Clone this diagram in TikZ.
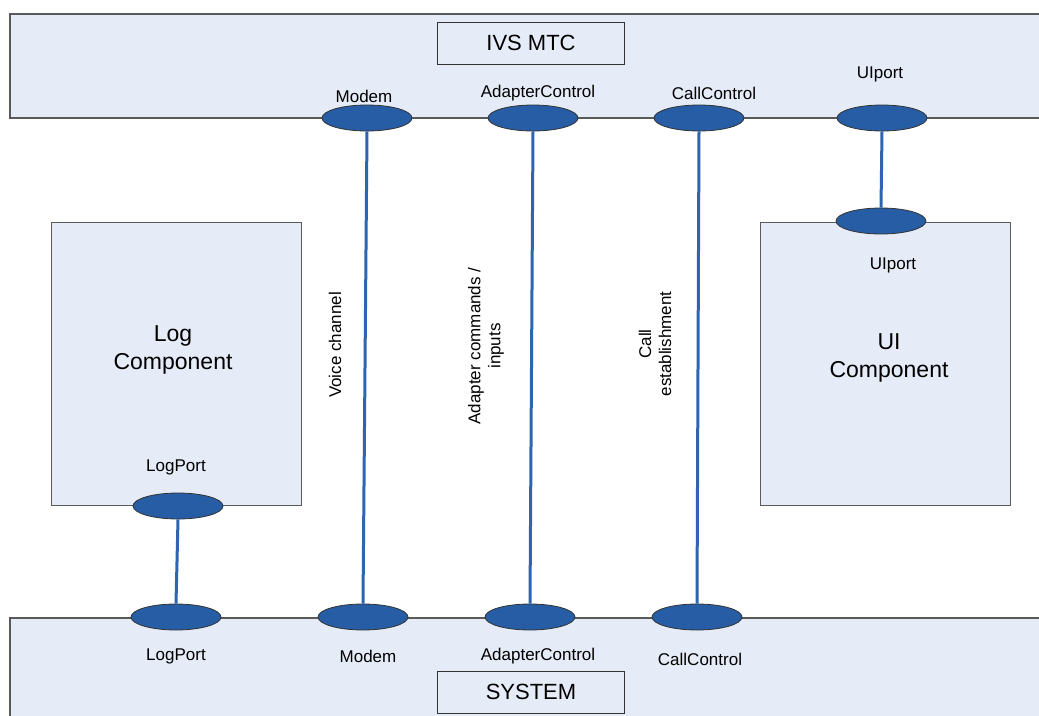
\documentclass[tikz,border=0pt]{standalone}
\usepackage{fontspec}
\setmainfont{Liberation Sans}
\usetikzlibrary{shapes.geometric}
\definecolor{bandfill}{RGB}{230,236,247}
\definecolor{portblue}{RGB}{38,93,165}
\definecolor{linkblue}{RGB}{46,100,176}
\definecolor{edgegray}{RGB}{90,90,90}

\begin{document}
\begin{tikzpicture}[x=1pt,y=-1pt,
  band/.style={draw=edgegray,fill=bandfill,line width=1.2pt},
  comp/.style={draw=edgegray,fill=bandfill,line width=1pt,rectangle,minimum width=250pt,minimum height=283pt,inner sep=0pt},
  title/.style={draw=black!80,fill=bandfill,line width=1pt,minimum width=187pt,minimum height=42pt,inner sep=0pt,font=\fontsize{22}{26}\selectfont},
  compname/.style={align=center,inner sep=0pt,font=\fontsize{23}{28}\selectfont},
  port/.style={ellipse,draw=black!80,line width=0.8pt,fill=portblue,minimum width=90pt,minimum height=26pt,inner sep=0pt},
  lbl/.style={inner sep=0pt,font=\fontsize{17}{20}\selectfont},
  vlbl/.style={lbl,rotate=90,align=center},
  link/.style={draw=linkblue,line width=3pt}]
\clip (0,0) rectangle (1039,715);
\fill[white] (0,0) rectangle (1039,715);
% the two system bands
\draw[band] (10,14) rectangle (1060,118);
\draw[band] (10,618) rectangle (1060,740);
\node[title] (mtc) at (531,43) {IVS MTC};
\node[title] (sys) at (531,692) {SYSTEM};
% components
\node[comp] (log) at (176,363.5) {};
\node[comp] (ui) at (885,363.5) {};
\node[compname] (logname) at (173,350) {Log\\Component};
\node[compname] (uiname) at (889,358) {UI\\Component};
% ports
\foreach \n/\x/\y in {mdmT/367/118,adcT/533/118,ccT/699/118,uiT/882/118,
    uiP/881/221,logP/178/506,
    logB/176/617,mdmB/363/617,adcB/530/617,ccB/697/617} {
  \node[port] (\n) at (\x,\y) {};
}
% connections
\draw[link] (mdmT.south) -- (mdmB.north);
\draw[link] (adcT.south) -- (adcB.north);
\draw[link] (ccT.south) -- (ccB.north);
\draw[link] (uiT.south) -- (uiP.north);
\draw[link] (logP.south) -- (logB.north);
% port labels
\foreach \n/\x/\y/\t in {mdmTl/364/96/Modem,adcTl/538/93/AdapterControl,
    ccTl/714/93/CallControl,uiTl/880/74/UIport,
    uiPl/893/265/UIport,logPl/176/467/LogPort,
    logBl/176/656/LogPort,mdmBl/368/656/Modem,
    adcBl/538/656/AdapterControl,ccBl/700/659/CallControl} {
  \node[lbl] (\n) at (\x,\y) {\t};
}
% link labels
\node[vlbl] (voice) at (335,345) {Voice channel};
\node[vlbl] (adcmd) at (486,346) {Adapter commands /\\inputs};
\node[vlbl] (callest) at (655,344) {Call\\establishment};
\end{tikzpicture}
\end{document}
